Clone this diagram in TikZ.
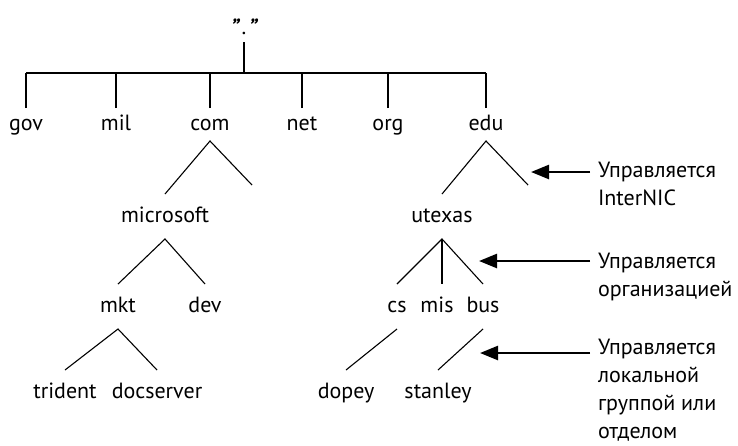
\documentclass[tikz,border=0pt]{standalone}
\usepackage{fontspec}
\setmainfont{PT Sans}
\usetikzlibrary{calc}
\usetikzlibrary{arrows.meta}
\tikzset{%
    dname/.style={inner sep=0pt,outer xsep=0pt,outer ysep=12pt,anchor=base,text height=16pt,text depth=5pt,font=\fontsize{22}{26}\selectfont},
    tldname/.style={dname,outer ysep=6pt},
    treeline/.style={line width=1.1pt},
    ctrlarrow/.style={line width=2.5pt,-{Triangle[length=18pt,width=14pt]}},
    ctrltext/.style={inner sep=0pt,outer xsep=8pt,anchor=base west,align=left,font=\fontsize{22}{28}\selectfont},
}
\begin{document}
\begin{tikzpicture}[x=1pt,y=-1pt]
        \useasboundingbox (0,0) rectangle (738,445);
        % root and top level
        \node [dname,outer ysep=3pt] (root) at (244,34) {{\bfseries\itshape ”}\kern2.5pt.\kern2.5pt{\bfseries\itshape ”}};
        \coordinate (bar) at (244,73);
        \node [tldname] (gov) at (26,130) {gov};
        \node [tldname] (mil) at (116,130) {mil};
        \node [tldname] (com) at (210,130) {com};
        \node [tldname] (net) at (302,130) {net};
        \node [tldname] (org) at (388,130) {org};
        \node [tldname] (edu) at (486,130) {edu};
        \draw [treeline] (root) -- (bar);
        \draw [treeline,line width=1.5pt] (gov |- bar) -- (edu |- bar);
        \draw [treeline] (gov) -- (gov |- bar);
        \draw [treeline] (mil) -- (mil |- bar);
        \draw [treeline] (com) -- (com |- bar);
        \draw [treeline] (net) -- (net |- bar);
        \draw [treeline] (org) -- (org |- bar);
        \draw [treeline] (edu) -- (edu |- bar);

        % com side
        \node [dname] (microsoft) at (165,222) {microsoft};
        \node [dname] (mkt) at (118,312) {mkt};
        \node [dname] (dev) at (205,312) {dev};
        \node [dname] (trident) at (65,398) {trident};
        \node [dname] (docserver) at (157,398) {docserver};
        \draw [treeline] (microsoft.north) -- (com.south) -- ++(42,44) coordinate (comrest);
        \draw [treeline] (mkt.north) -- (microsoft.south) -- (dev.north);
        \draw [treeline] (trident.north) -- (mkt.south) -- (docserver.north);

        % edu side
        \node [dname] (utexas) at (442,222) {utexas};
        \node [dname] (cs) at (397,312) {cs};
        \node [dname] (mis) at (437,312) {mis};
        \node [dname] (bus) at (483,312) {bus};
        \node [dname] (dopey) at (346,398) {dopey};
        \node [dname] (stanley) at (438,398) {stanley};
        \draw [treeline] (utexas.north) -- (edu.south) -- ++(42,44) coordinate (edurest);
        \draw [treeline] (cs.north) -- (utexas.south) -- (bus.north);
        \draw [treeline] (utexas.south) -- (utexas.south |- mis.north);
        \draw [treeline] (cs.south) -- (dopey.north);
        \draw [treeline] (bus.south) -- (stanley.north);

        % who manages what (base = last line)
        \node [ctrltext] (ctrla) at (590,205) {Управляется\\InterNIC};
        \node [ctrltext] (ctrlb) at (590,296) {Управляется\\организацией};
        \node [ctrltext] (ctrlc) at (590,438) {Управляется\\локальной\\группой или\\отделом};
        \coordinate (tipa) at (531,172);
        \coordinate (tipb) at (479,261);
        \coordinate (tipc) at (480,353);
        \draw [ctrlarrow] (tipa -| ctrla.west) -- (tipa);
        \draw [ctrlarrow] (tipb -| ctrlb.west) -- (tipb);
        \draw [ctrlarrow] (tipc -| ctrlc.west) -- (tipc);
\end{tikzpicture}
\end{document}
